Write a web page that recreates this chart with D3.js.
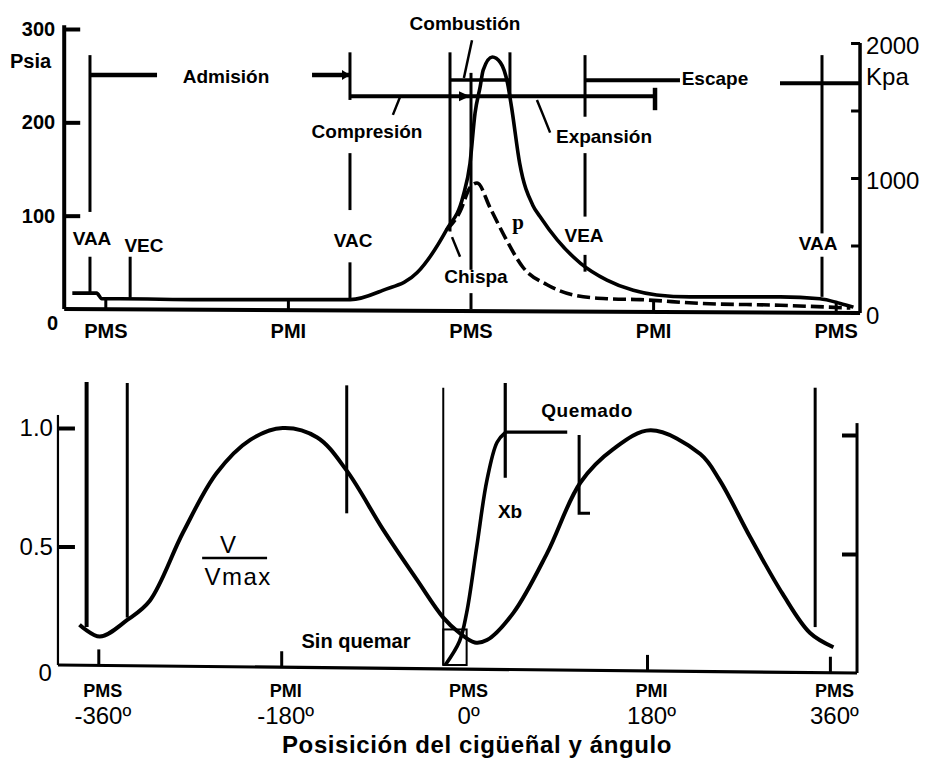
<!DOCTYPE html>
<html><head><meta charset="utf-8">
<script src="https://cdn.jsdelivr.net/npm/d3@7"></script>
<style>
body{margin:0;background:#fff}
svg{display:block;background:#fff}
text{font-family:"Liberation Sans",Arial,Helvetica,sans-serif;fill:#000}
</style>
</head><body>
<svg id="c" width="927" height="767"></svg>
<script>
// ================= DATA =================
// Top panel: cylinder pressure (psia) vs crank angle (deg)
const pTheta  = [-393,-369,-364,-346,-267,-169,-119,-87,-53,-24,-8,-1,4,9,12,21,29,36,40,48,61,68,85,108,134,160,183,216,265,305,344,364,377];
const pFired  = [17,17,11,11,10,10,10,20,39,85,120,156,210,238,256,270,264,242,216,156,111,99,74,49,31,20,15,13,13,13,11,6,2];
// motored (dashed) pressure
const mTheta  = [-24,-11,-1,6,19,34,51,75,101,134,167,226,305,374];
const pMotor  = [85,104,130,135,108,76,45,26,15,11,10,6,4,1];
// Bottom panel: V/Vmax vs crank angle
const vTheta  = [-379,-359,-332,-310,-277,-244,-211,-179,-145,-116,-80,-47,-21,-5,10,22,48,81,114,146,183,232,251,281,313,340,363];
const vRatio  = [0.17,0.12,0.19,0.27,0.56,0.81,0.95,1.0,0.96,0.82,0.57,0.36,0.20,0.135,0.095,0.105,0.22,0.47,0.77,0.91,0.99,0.89,0.78,0.54,0.30,0.135,0.075];
// burned mass fraction Xb
const xbTheta = [-19,-5,2,12,22,32,40];
const xbValue = [0,0.1,0.22,0.5,0.78,0.94,0.98];
// axis ticks
const xTickValues = [-360,-180,0,180,360];
const xTickNames  = ["PMS","PMI","PMS","PMI","PMS"];
const xTickAngles = ["-360º","-180º","0º","180º","360º"];
const psiaTicks   = [100,200,300];
const kpaTicks    = [0,500,1000,1500,2000];
const vTicks      = [0.5,1.0];
// event angles (deg) : valve timings, spark, end of combustion
const evNames  = ["VAA","VEC","VAC","Chispa","PMS","FinComb","VEA","VAA2"];
const evTheta  = [-375.6,-336,-119.3,-20.7,0,38.4,112.4,346];

// ================= SETUP =================
const K="#000";
const svg=d3.select("#c");
const xT=d3.scaleLinear().domain([-360,360]).range([105.8,836.2]);
const yP=d3.scaleLinear().domain([0,300]).range([309,29]);
const yK=d3.scaleLinear().domain([0,2000]).range([313,43]);
const xB=d3.scaleLinear().domain([-360,360]).range([98.8,830.4]);
const yV=d3.scaleLinear().domain([0,1]).range([665,428]);
const yVR=d3.scaleLinear().domain([0,1]).range([673,435]);

function seg(g,pts,w,extra){
  const p=g.append("path").attr("d",d3.line()(pts)).attr("fill","none")
    .attr("stroke",K).attr("stroke-width",w).attr("stroke-linecap","butt");
  if(extra) extra(p);
  return p;
}
function label(g,x,y,txt,size,bold,anchor,ls){
  return g.append("text").attr("x",x).attr("y",y).text(txt)
    .attr("font-size",size).attr("font-weight",bold?"bold":"normal")
    .attr("text-anchor",anchor||"middle").attr("letter-spacing",ls||0);
}
function arrowR(g,x,y,len,hw){
  g.append("path").attr("d",`M${x},${y}L${x-len},${y-hw}L${x-len},${y+hw}Z`).attr("fill",K);
}

// ================= TOP PANEL =================
const gT=svg.append("g");
const tL=-401, tR=383.5;           // axis extents in degrees
const xLT=xT(tL), xRT=xT(tR);

// left axis (psia)
seg(gT,[[xLT,yP(0)],[xLT,yP(304)]],4);
gT.append("g").attr("transform",`translate(${xLT},0)`)
  .call(d3.axisLeft(yP).tickValues(psiaTicks).tickSize(-16).tickPadding(9))
  .call(g=>{g.select(".domain").remove();
    g.selectAll(".tick line").attr("stroke",K).attr("stroke-width",4);
    g.selectAll("text").attr("font-size",20).attr("font-weight","bold").attr("fill",K)
      .attr("font-family",'"Liberation Sans",Arial,sans-serif');});
label(gT,xLT-6,330,"0",20,true,"end");
label(gT,10,68,"Psia",20,true,"start");

// right axis (kPa)
seg(gT,[[xRT,yK(0)],[xRT,yK(2000)]],3.5);
gT.append("g").attr("transform",`translate(${xRT},0)`)
  .call(d3.axisRight(yK).tickValues(kpaTicks).tickSize(-9).tickPadding(6)
    .tickFormat(d=>d%1000===0?d:""))
  .call(g=>{g.select(".domain").remove();
    g.selectAll(".tick line").attr("stroke",K).attr("stroke-width",3);
    g.selectAll("text").attr("font-size",24).attr("fill",K).attr("dy","0.45em")
      .attr("font-family",'"Liberation Sans",Arial,sans-serif');});
label(gT,xRT+6,85,"Kpa",24,false,"start");

// baseline (slightly tilted in the drawing)
seg(gT,[[xLT,yP(0)],[xRT,yK(0)]],4);
const tiltT=d3.scaleLinear().domain([xLT,xRT]).range([yP(0),yK(0)]);
// x tick marks + labels
xTickValues.forEach((v,i)=>{
  const x=xT(v);
  if(v!==0) seg(gT,[[x,tiltT(x)],[x,tiltT(x)-12]],3);
  label(gT,x,338,xTickNames[i],20,true);
});

// vertical event lines with gaps (psia ranges)
const topSegs={
  VAA:[[272,104],[56,18]], VEC:[[56,12]], VAC:[[275,224],[167,106],[50,11]],
  Chispa:[[275,83]], PMS:[[253,42],[17,0]], FinComb:[[275,227]],
  VEA:[[272,206],[167,99],[58,40]], VAA2:[[272,81],[56,13]]
};
evNames.forEach((n,i)=>{
  const x=xT(evTheta[i]);
  topSegs[n].forEach(s=>seg(gT,[[x,yP(s[0])],[x,yP(s[1])]],3));
});

// horizontal stroke brackets
const pAdm=250.7, pComp=228, pEsc=245, pEsc2=242, pComb=245.4;
seg(gT,[[xT(evTheta[0]),yP(pAdm)],[xT(-309.5),yP(pAdm)]],4.5);
seg(gT,[[xT(-156.7),yP(pAdm)],[xT(evTheta[2]),yP(pAdm)]],4.5);
arrowR(gT,xT(evTheta[2]),yP(pAdm),8,5);
seg(gT,[[xT(evTheta[2]),yP(pComp)],[xT(181.4),yP(pComp)]],4);
arrowR(gT,xT(-1),yP(pComp),11,5);
seg(gT,[[xT(181.4),yP(237)],[xT(181.4),yP(213)]],4.5);
seg(gT,[[xT(evTheta[6]),yP(pEsc)],[xT(206),yP(pEsc)]],4);
seg(gT,[[xT(304.6),yP(pEsc2)],[xRT,yP(pEsc2)]],4);
seg(gT,[[xT(evTheta[3]),yP(pComb)],[xT(evTheta[5]),yP(pComb)]],3.5);

// leader lines
const leaders=[ [[1,288],[-7,247.5]], [[-70,227],[-77,208]],
  [[65,224],[71,208],[78,189]], [[-18.7,77],[-10.8,56]] ];
leaders.forEach(L=>seg(gT,L.map(d=>[xT(d[0]),yP(d[1])]),2.5));

// pressure curves
const lineP=d3.line().x(d=>xT(d[0])).y(d=>yP(d[1])).curve(d3.curveMonotoneX);
gT.append("path").attr("d",lineP(d3.zip(pTheta,pFired))).attr("fill","none")
  .attr("stroke",K).attr("stroke-width",3.6).attr("stroke-linejoin","round");
gT.append("path").attr("d",lineP(d3.zip(mTheta,pMotor))).attr("fill","none")
  .attr("stroke",K).attr("stroke-width",3.6).attr("stroke-dasharray","13,5");

// annotation labels (positions in data units)
const topLabels=[
  ["Admisión",-241.5,242],["Compresión",-102.5,183.2],["Combustión",-5.9,299],
  ["VAA",-373.6,68.6],["VEC",-322.4,61],["VAC",-116.3,66.4],["Chispa",4.9,27.9],
  ["VEA",111.4,71.8],["Expansión",131.1,177.9],["Escape",240.5,240],["VAA",342.1,63.2]
];
topLabels.forEach(d=>label(gT,xT(d[1]),yP(d[2]),d[0],19,true));
gT.append("text").attr("x",xT(46.3)).attr("y",yP(85.7)).text("p")
  .attr("font-size",21).attr("font-weight","bold").attr("text-anchor","middle")
  .style("font-family",'"Liberation Serif","Times New Roman",serif');

// ================= BOTTOM PANEL =================
const gB=svg.append("g");
const bL=-400.2, bR=386.2;
const xLB=xB(bL), xRB=xB(bR);
seg(gB,[[xLB,yV(0)],[xLB,yV(1.055)]],2.2);
gB.append("g").attr("transform",`translate(${xLB},0)`)
  .call(d3.axisLeft(yV).tickValues(vTicks).tickSize(-17).tickPadding(5).tickFormat(d3.format(".1f")))
  .call(g=>{g.select(".domain").remove();
    g.selectAll(".tick line").attr("stroke",K).attr("stroke-width",4);
    g.selectAll("text").attr("font-size",24).attr("fill",K)
      .attr("font-family",'"Liberation Sans",Arial,sans-serif');});
label(gB,xLB-6,681,"0",24,false,"end");
seg(gB,[[xRB,yVR(0)],[xRB,yVR(1.05)]],3);
gB.append("g").attr("transform",`translate(${xRB},0)`)
  .call(d3.axisRight(yVR).tickValues(vTicks).tickSize(-15).tickFormat(""))
  .call(g=>{g.select(".domain").remove();
    g.selectAll(".tick line").attr("stroke",K).attr("stroke-width",4);});
seg(gB,[[xLB,yV(0)],[xRB,yVR(0)]],3.2);
const tiltB=d3.scaleLinear().domain([xLB,xRB]).range([yV(0),yVR(0)]);
xTickValues.forEach((v,i)=>{
  const x=xB(v);
  if(v!==0) seg(gB,[[x,tiltB(x)],[x,tiltB(x)-16]],3);
  label(gB,x+4,697,xTickNames[i],18,true);
  label(gB,x+4,724,xTickAngles[i],24,false);
});

// vertical event lines (V/Vmax ranges)
const botLines=[[-372,1.194,0.16,4],[-332,1.19,0.2,3],[-116,1.18,0.64,3],
  [-21,1.17,0,2],[40,1.19,0.79,3.2],[345,1.17,0.16,3]];
botLines.forEach(d=>seg(gB,[[xB(d[0]),yV(d[1])],[xB(d[0]),yV(d[2])]],d[3]));
// small box near PMS
gB.append("rect").attr("x",xB(-21)).attr("y",yV(0.15))
  .attr("width",xB(2)-xB(-21)).attr("height",yV(0)-yV(0.15))
  .attr("fill","none").attr("stroke",K).attr("stroke-width",2);
// Quemado bracket
seg(gB,[[xB(40),yV(0.983)],[xB(101),yV(0.983)]],3.2);
seg(gB,[[xB(112.7),yV(0.97)],[xB(112.7),yV(0.64)],[xB(123.4),yV(0.64)]],3);

// curves
const lineV=d3.line().x(d=>xB(d[0])).y(d=>yV(d[1])).curve(d3.curveCatmullRom.alpha(0.5));
gB.append("path").attr("d",lineV(d3.zip(vTheta,vRatio))).attr("fill","none")
  .attr("stroke",K).attr("stroke-width",4).attr("stroke-linejoin","round");
gB.append("path").attr("d",lineV(d3.zip(xbTheta,xbValue))).attr("fill","none")
  .attr("stroke",K).attr("stroke-width",3.6);

// labels
label(gB,xB(-232.9),yV(0.473),"V",24,false);
seg(gB,[[xB(-258.3),yV(0.451)],[xB(-194.4),yV(0.451)]],2.5);
label(gB,xB(-222.8),yV(0.338),"Vmax",24,false,"middle",1.5);
label(gB,xB(-106.9),yV(0.072),"Sin quemar",20,true);
label(gB,xB(120.5),yV(1.046),"Quemado",19,true,"middle",0.6);
label(gB,xB(44.7),yV(0.62),"Xb",19,true);

// title
label(svg,477,753,"Posisición del cigüeñal y ángulo",24,true,"middle",0.6);
</script>
</body></html>
